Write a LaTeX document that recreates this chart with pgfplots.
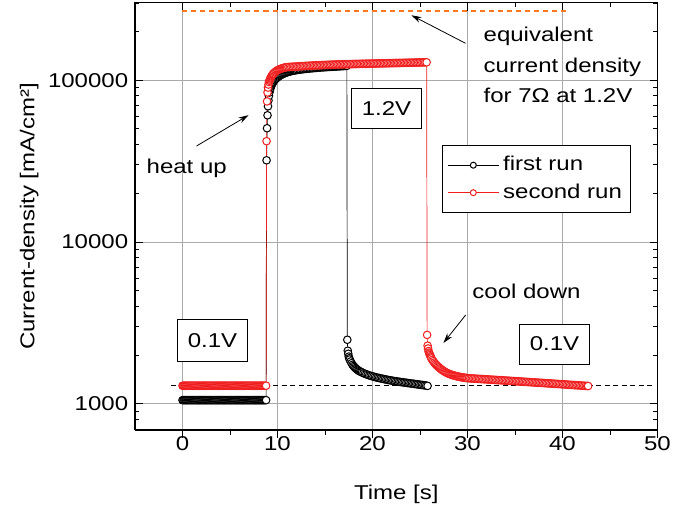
\documentclass[border=0pt]{standalone}
\usepackage{fontspec}
\setmainfont{Liberation Sans}[FakeStretch=1.2]
\usepackage{pgfplots}
\pgfplotsset{compat=1.18}
\usetikzlibrary{arrows.meta}
\definecolor{myred}{RGB}{240,30,30}
\definecolor{myorange}{RGB}{255,120,30}
\definecolor{gridgray}{RGB}{170,170,170}
\begin{document}
\fontsize{20bp}{24bp}\selectfont
\begin{tikzpicture}[font=\fontsize{20bp}{24bp}\selectfont]
\begin{axis}[
  scale only axis, width=522.5bp, height=427bp,
  xmin=-5, xmax=50, ymode=log, ymin=690, ymax=300000,
  xtick={0,10,20,30,40,50}, minor xtick={5,15,25,35,45},
  ytick={1000,10000,100000}, yticklabels={1000,10000,100000},
  minor ytick={700,800,900,2000,3000,4000,5000,6000,7000,8000,9000,20000,30000,40000,50000,60000,70000,80000,90000,200000,300000},
  xtick pos=right, xticklabel pos=left,
  tick align=inside,
  major tick length=8bp, minor tick length=4.5bp,
  tick style={black, line width=0.9bp},
  axis line style={line width=1bp},
  grid=major, major grid style={gridgray, line width=0.9bp},
  /pgf/number format/assume math mode=true,
  xlabel={Time [s]}, ylabel={Current-density [mA/cm²]},
  xlabel style={yshift=-20bp},
  ylabel style={yshift=-4bp},
  legend style={at={(0.5876,0.6674)}, anchor=north west, draw=black, line width=0.9bp,
    inner xsep=5bp, inner ysep=10bp, row sep=8bp, nodes={inner xsep=4bp, inner ysep=1bp}},
  legend cell align=left,
  legend image code/.code={\draw[#1, mark size=3bp, mark repeat=2, mark phase=2] plot coordinates {(0bp,0bp) (25.5bp,0bp) (51bp,0bp)};},
]
\addplot[black, line width=0.7bp, mark=*, mark size=3.8bp, mark options={fill=white, draw=black, line width=1bp, solid}] coordinates {
(0,1055)(0.1,1055)(0.2,1055)(0.3,1055)(0.4,1055)(0.5,1055)(0.6,1055)(0.7,1055)(0.8,1055)(0.9,1055)(1,1055)(1.1,1055)(1.2,1055)(1.3,1055)(1.4,1055)(1.5,1055)(1.6,1055)(1.7,1055)(1.8,1055)(1.9,1055)(2,1055)(2.1,1055)(2.2,1055)(2.3,1055)(2.4,1055)(2.5,1055)(2.6,1055)(2.7,1055)(2.8,1055)(2.9,1055)(3,1055)(3.1,1055)(3.2,1055)(3.3,1055)(3.4,1055)(3.5,1055)(3.6,1055)(3.7,1055)(3.8,1055)(3.9,1055)(4,1055)(4.1,1055)(4.2,1055)(4.3,1055)(4.4,1055)(4.5,1055)(4.6,1055)(4.7,1055)(4.8,1055)(4.9,1055)(5,1055)(5.1,1055)(5.2,1055)(5.3,1055)(5.4,1055)(5.5,1055)(5.6,1055)(5.7,1055)(5.8,1055)(5.9,1055)(6,1055)(6.1,1055)(6.2,1055)(6.3,1055)(6.4,1055)(6.5,1055)(6.6,1055)(6.7,1055)(6.8,1055)(6.9,1055)(7,1055)(7.1,1055)(7.2,1055)(7.3,1055)(7.4,1055)(7.5,1055)(7.6,1055)(7.7,1055)(7.8,1055)(7.9,1055)(8,1055)(8.1,1055)(8.2,1055)(8.3,1055)(8.4,1055)(8.5,1055)(8.6,1055)(8.7,1055)(8.8,1055)
(8.85,32000)(8.9,50500)(8.95,60700)(9.0,69000)(9.05,75000)(9.1,80000)(9.15,84000)(9.2,87000)(9.25,89000)(9.3,91000)(9.35,92500)(9.4,94000)(9.45,95300)(9.5,96500)(9.55,97500)(9.6,98500)(9.7,100200)(9.8,101700)(9.9,103000)(10,104200)(10.1,105300)(10.2,106300)(10.3,107200)(10.4,108000)(10.5,108800)(10.6,109500)(10.7,110200)(10.8,110800)(10.9,111400)(11.0,111900)(11.1,112400)(11.2,112900)(11.3,113300)(11.4,113700)(11.5,114100)(11.6,114400)(11.7,114700)(11.8,115000)(11.9,115250)(12.0,115500)(12.15,115900)(12.3,116200)(12.45,116500)(12.6,116800)(12.75,117100)(12.9,117400)(13.05,117700)(13.2,117900)(13.35,118150)(13.5,118400)(13.65,118600)(13.8,118800)(13.95,119000)(14.1,119250)(14.25,119500)(14.4,119700)(14.55,119900)(14.7,120100)(14.85,120250)(15.0,120400)(15.15,120550)(15.3,120700)(15.45,120850)(15.6,121000)(15.75,121150)(15.9,121300)(16.05,121450)(16.2,121600)(16.35,121750)(16.5,121900)(16.65,122050)(16.8,122200)(16.95,122350)(17.1,122500)(17.2,122600)(17.3,122700)
(17.35,2490)(17.4,2130)(17.45,2040)(17.5,1960)(17.55,1915)(17.6,1880)(17.7,1830)(17.8,1785)(17.9,1745)(18,1715)(18.1,1690)(18.2,1665)(18.3,1645)(18.4,1627)(18.5,1610)(18.6,1597)(18.7,1585)(18.8,1575)(18.9,1565)(19.05,1550)(19.2,1536)(19.35,1524)(19.5,1512)(19.65,1501)(19.8,1492)(19.95,1483)(20.1,1475)(20.25,1466)(20.4,1459)(20.55,1451)(20.7,1445)(20.85,1438)(21,1432)(21.15,1426)(21.3,1420)(21.45,1414)(21.6,1408)(21.75,1403)(21.9,1398)(22.05,1393)(22.2,1388)(22.35,1383)(22.5,1379)(22.65,1374)(22.8,1370)(22.95,1366)(23.1,1362)(23.25,1358)(23.4,1354)(23.55,1350)(23.7,1347)(23.85,1343)(24,1339)(24.15,1335)(24.3,1332)(24.45,1328)(24.6,1324)(24.75,1321)(24.9,1317)(25.05,1313)(25.2,1310)(25.35,1306)(25.5,1302)(25.65,1298)(25.8,1292)
};
\addlegendentry{first run}
\addplot[myred, line width=0.7bp, mark=*, mark size=3.8bp, mark options={fill=white, draw=myred, line width=1bp, solid}] coordinates {
(0,1295)(0.1,1295)(0.2,1295)(0.3,1295)(0.4,1295)(0.5,1295)(0.6,1295)(0.7,1295)(0.8,1295)(0.9,1295)(1,1295)(1.1,1295)(1.2,1295)(1.3,1295)(1.4,1295)(1.5,1295)(1.6,1295)(1.7,1295)(1.8,1295)(1.9,1295)(2,1295)(2.1,1295)(2.2,1295)(2.3,1295)(2.4,1295)(2.5,1295)(2.6,1295)(2.7,1295)(2.8,1295)(2.9,1295)(3,1295)(3.1,1295)(3.2,1295)(3.3,1295)(3.4,1295)(3.5,1295)(3.6,1295)(3.7,1295)(3.8,1295)(3.9,1295)(4,1295)(4.1,1295)(4.2,1295)(4.3,1295)(4.4,1295)(4.5,1295)(4.6,1295)(4.7,1295)(4.8,1295)(4.9,1295)(5,1295)(5.1,1295)(5.2,1295)(5.3,1295)(5.4,1295)(5.5,1295)(5.6,1295)(5.7,1295)(5.8,1295)(5.9,1295)(6,1295)(6.1,1295)(6.2,1295)(6.3,1295)(6.4,1295)(6.5,1295)(6.6,1295)(6.7,1295)(6.8,1295)(6.9,1295)(7,1295)(7.1,1295)(7.2,1295)(7.3,1295)(7.4,1295)(7.5,1295)(7.6,1295)(7.7,1295)(7.8,1295)(7.9,1295)(8,1295)(8.1,1295)(8.2,1295)(8.3,1295)(8.4,1295)(8.5,1295)(8.6,1295)(8.7,1295)(8.8,1295)
(8.85,42000)(8.9,74000)(8.95,84000)(9.0,90000)(9.05,94000)(9.1,97500)(9.15,99300)(9.2,101000)(9.25,102600)(9.3,104000)(9.35,105300)(9.4,106500)(9.45,107500)(9.5,108500)(9.55,109400)(9.6,110300)(9.7,111800)(9.8,113100)(9.9,114200)(10,115200)(10.1,116000)(10.2,116800)(10.3,117400)(10.4,118000)(10.5,118500)(10.6,119000)(10.7,119450)(10.8,119900)(10.9,120200)(11.0,120500)
(11.15,120650)(11.3,120800)(11.45,120950)(11.6,121100)(11.75,121250)(11.9,121400)(12.05,121550)(12.2,121700)(12.35,121850)(12.5,122000)(12.65,122150)(12.8,122300)(12.95,122450)(13.1,122600)(13.25,122750)(13.4,122900)(13.55,123050)(13.7,123200)(13.85,123350)(14.0,123450)(14.15,123560)(14.3,123670)(14.45,123780)(14.6,123900)(14.75,124000)(14.9,124100)(15.05,124240)(15.2,124350)(15.35,124460)(15.5,124570)(15.65,124680)(15.8,124800)(15.95,124870)(16.1,124950)(16.25,125030)(16.4,125100)(16.55,125180)(16.7,125250)(16.85,125330)(17.0,125400)(17.15,125480)(17.3,125550)(17.45,125630)(17.6,125700)(17.75,125780)(17.9,125850)(18.05,125920)
(18.2,125980)(18.35,126040)(18.5,126100)(18.65,126160)(18.8,126220)(18.95,126280)(19.1,126340)(19.25,126400)(19.4,126460)(19.55,126520)(19.7,126580)(19.85,126640)(20.0,126700)(20.15,126760)(20.3,126820)(20.45,126880)(20.6,126940)(20.75,127000)(20.9,127060)(21.05,127120)(21.2,127180)(21.35,127240)(21.5,127300)(21.65,127360)(21.8,127420)(21.95,127480)(22.1,127540)(22.25,127600)(22.4,127660)(22.55,127720)(22.7,127780)(22.85,127840)(23.0,127900)(23.15,127960)(23.3,128020)(23.45,128080)(23.6,128140)(23.75,128200)(23.9,128260)(24.05,128320)(24.2,128380)(24.35,128440)(24.5,128500)(24.65,128560)(24.8,128620)(24.95,128680)(25.1,128740)(25.25,128800)(25.4,128860)(25.55,128920)(25.7,129000)
(25.75,2670)(25.8,2290)(25.85,2200)(25.9,2120)(25.95,2075)(26.0,2040)(26.05,2005)(26.1,1970)(26.15,1940)(26.2,1910)(26.3,1870)(26.4,1835)(26.5,1800)(26.6,1770)(26.7,1745)(26.8,1722)(26.9,1700)(27.0,1680)(27.1,1660)(27.2,1642)(27.3,1625)(27.4,1610)(27.5,1595)(27.6,1582)(27.7,1570)(27.8,1559)(27.9,1548)(28.0,1539)(28.1,1530)(28.2,1522)(28.3,1515)(28.4,1508)(28.5,1502)(28.6,1496)(28.7,1491)(28.8,1486)(28.9,1481)(29.0,1476)(29.1,1472)(29.2,1468)(29.3,1464)(29.4,1460)(29.5,1457)(29.6,1454)(29.7,1451)(29.8,1448)(29.9,1446)(30.0,1443)
(30.15,1440)(30.3,1438)(30.45,1436)(30.6,1435)(30.75,1433)(30.9,1431)(31.05,1429)(31.2,1428)(31.35,1426)(31.5,1424)(31.65,1422)(31.8,1420)(31.95,1419)(32.1,1417)(32.25,1415)(32.4,1413)(32.55,1411)(32.7,1410)(32.85,1408)(33,1406)(33.15,1404)(33.3,1402)(33.45,1401)(33.6,1399)(33.75,1397)(33.9,1395)(34.05,1393)(34.2,1392)(34.35,1390)(34.5,1388)(34.65,1386)(34.8,1384)(34.95,1383)(35.1,1381)(35.25,1379)(35.4,1377)(35.55,1375)(35.7,1374)(35.85,1372)(36,1370)(36.15,1368)(36.3,1366)(36.45,1365)(36.6,1363)(36.75,1361)(36.9,1359)(37.05,1357)(37.2,1356)(37.35,1354)(37.5,1352)(37.65,1350)(37.8,1348)(37.95,1347)(38.1,1345)(38.25,1343)(38.4,1341)(38.55,1339)(38.7,1338)(38.85,1336)(39,1334)(39.15,1332)(39.3,1330)(39.45,1329)(39.6,1327)(39.75,1325)(39.9,1323)(40.05,1321)(40.2,1320)(40.35,1318)(40.5,1316)(40.65,1314)(40.8,1312)(40.95,1311)(41.1,1309)(41.25,1307)(41.4,1305)(41.55,1303)(41.7,1302)(41.85,1300)(42,1298)(42.15,1296)(42.3,1294)(42.45,1293)(42.6,1291)(42.7,1290)
};
\addlegendentry{second run}
\addplot[forget plot, black, dash pattern=on 5bp off 3.5bp, line width=0.9bp] coordinates {(-1.2,1295)(49.5,1295)};
\addplot[forget plot, color=myorange, draw=myorange, dash pattern=on 5bp off 4bp, line width=1.4bp] coordinates {(0,267000)(40.5,267000)};
\node[draw=black, fill=white, line width=0.9bp, minimum width=70bp, minimum height=40bp, inner sep=0pt] at (21.47,67100) {1.2V};
\node[draw=black, fill=white, line width=0.9bp, minimum width=70bp, minimum height=42bp, inner sep=0pt] at (3.16,2450) {0.1V};
\node[draw=black, fill=white, line width=0.9bp, minimum width=70bp, minimum height=40bp, inner sep=0pt] at (39.16,2345) {0.1V};
\node[anchor=base west, inner sep=0pt] at (30.5,4510) {cool down};
\node[anchor=base west, inner sep=0pt] at (-3.79,26700) {heat up};
\node[anchor=base west, inner sep=0pt] at (31.68,174100) {equivalent};
\node[anchor=base west, inner sep=0pt] at (31.68,112000) {current density};
\node[anchor=base west, inner sep=0pt] at (31.68,72600) {for 7Ω at 1.2V};
\draw[line width=0.8bp, -{Stealth[length=10bp,width=6bp]}] (29.8,3540) -- (27.47,2380);
\draw[line width=0.8bp, -{Stealth[length=10bp,width=6bp]}] (1.47,39200) -- (6.95,60800);
\draw[line width=0.8bp, -{Stealth[length=10bp,width=6bp]}] (29.79,169100) -- (24.1,251800);
\end{axis}
\begin{axis}[
  scale only axis, width=522.5bp, height=427bp,
  xmin=-5, xmax=50, ymin=0, ymax=1,
  xtick={0,10,20,30,40,50}, minor xtick={5,15,25,35,45},
  xtick pos=left, tick align=outside,
  xticklabels={,,,,,,}, xticklabel style={opacity=0},
  ytick=\empty,
  major tick length=8bp, minor tick length=4.5bp,
  tick style={black, line width=0.9bp},
  axis line style={line width=1bp},
]
\end{axis}
\pgfresetboundingbox
\useasboundingbox (-135bp,-81bp) rectangle (538bp,430bp);
\end{tikzpicture}
\end{document}
